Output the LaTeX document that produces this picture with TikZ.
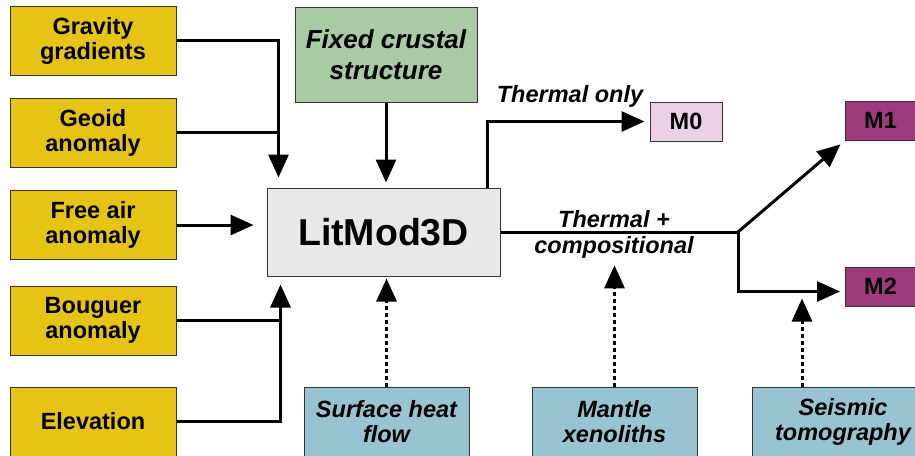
\documentclass[tikz,border=0pt]{standalone}
\usepackage{fontspec}
\setmainfont{Liberation Sans}
\usetikzlibrary{arrows.meta}
\definecolor{obsYellow}{HTML}{E6C416}
\definecolor{crustGreen}{HTML}{A8CBA3}
\definecolor{litGray}{HTML}{E8E8E8}
\definecolor{srcBlue}{HTML}{98C3D1}
\definecolor{mZero}{HTML}{EBD1E6}
\definecolor{mOne}{HTML}{9E3B7F}
\begin{document}
\begin{tikzpicture}[x=1pt, y=-1pt,
    box/.style={draw=black!80, line width=1pt, align=center, inner sep=0pt, font=\fontsize{23.5}{25}\selectfont\bfseries},
    obs/.style={box, fill=obsYellow, minimum width=166pt, minimum height=69pt},
    src/.style={box, fill=srcBlue, minimum width=165pt, minimum height=70pt, font=\fontsize{23.5}{25}\selectfont\bfseries\itshape},
    model/.style={box, minimum width=70pt, minimum height=39pt},
    lbl/.style={inner sep=0pt, align=center, font=\fontsize{23.5}{26}\selectfont\bfseries\itshape},
    plain/.style={line width=3pt},
    arr/.style={plain, -{Triangle[length=23pt, width=20pt]}},
    dots/.style={arr, dash pattern=on 4pt off 3pt}]
    \useasboundingbox (0,0) rectangle (915,455);
    \clip (0,0) rectangle (915,455);
    \node[obs] (grav) at (93,40.5) {Gravity\\gradients};
    \node[obs] (geoid) at (93,132.5) {Geoid\\anomaly};
    \node[obs] (freeair) at (93,225) {Free air\\anomaly};
    \node[obs] (bouguer) at (93,320.5) {Bouguer\\anomaly};
    \node[obs] (elev) at (93,421.5) {Elevation};
    \node[box, fill=crustGreen, minimum width=182pt, minimum height=95pt, font=\fontsize{26}{31}\selectfont\bfseries\itshape] (crust) at (386,54.5) {Fixed crustal\\structure};
    \node[box, fill=litGray, minimum width=233pt, minimum height=88pt, font=\fontsize{37.5}{40}\selectfont\bfseries] (litmod) at (383.5,232) {LitMod3D};
    \node[src] (heat) at (386.5,422) {Surface heat\\flow};
    \node[src] (mantle) at (614.5,422) {Mantle\\xenoliths};
    \node[src, minimum width=182pt] (seismic) at (843,422) {Seismic\\tomography};
    \node[model, fill=mZero, minimum width=72pt] (m0) at (686,121.5) {M0};
    \node[model, fill=mOne] (m1) at (880.5,120.5) {M1};
    \node[model, fill=mOne] (m2) at (880.5,286.5) {M2};
    \node[lbl, anchor=base] (thermal) at (570,102) {Thermal only};
    \node[lbl, anchor=north] (comp) at (614,210) {Thermal +\\compositional};
    \coordinate (topin) at ([xshift=12pt, yshift=10pt]litmod.north west);
    \coordinate (botin) at ([xshift=14pt, yshift=-8pt]litmod.south west);
    \coordinate (split) at (738,232);
    \coordinate (seisout) at ([xshift=-41pt]seismic.north);
    % inputs
    \draw[arr] (grav.east) -| (topin);
    \draw[plain] (geoid.east) -- (geoid.east -| topin);
    \draw[arr, shorten >=13pt] (freeair.east) -- (freeair.east -| litmod.west);
    \draw[plain] (bouguer.east) -- (bouguer.east -| botin);
    \draw[arr] (elev.east) -| (botin);
    \draw[arr, shorten >=5pt] (crust.south) -- (crust.south |- litmod.north);
    \draw[dots, shorten >=2pt] (heat.north) -- (heat.north |- litmod.south);
    \draw[dots, shorten >=7pt] (mantle.north) -- (mantle.north |- comp.south);
    \draw[dots, shorten >=-8pt] (seisout) -- (seisout |- m2.south);
    % outputs
    \draw[arr, shorten >=5pt] ([xshift=-13pt]litmod.north east) |- (m0.west);
    \draw[plain] (litmod.east) -- (split);
    \draw[arr, shorten >=6pt] (split) -- (m1.south west);
    \draw[arr, shorten >=5pt] (split) |- ([yshift=-5pt]m2.west);
\end{tikzpicture}
\end{document}
